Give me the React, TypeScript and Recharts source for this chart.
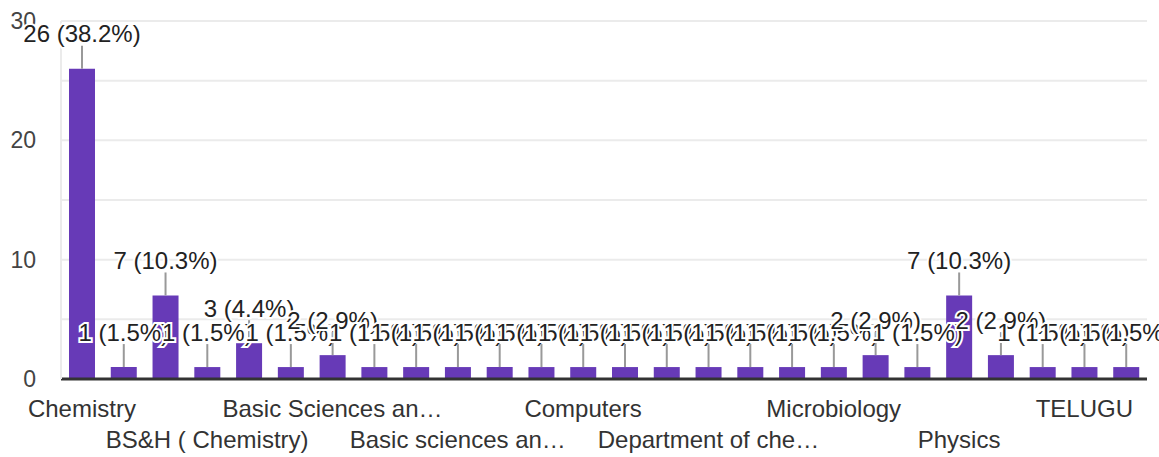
// Responses by department: Google Forms style bar chart
import { BarChart, Bar, XAxis, YAxis, CartesianGrid, LabelList } from 'recharts';

const categories = [
  'Chemistry', 'Zoology', 'CHEMISTRY', 'BS&H ( Chemistry)', 'Botany', 'Biotechnology',
  'Basic Sciences and Humanities', 'Mathematics', 'Chemistry & Biochemistry',
  'Basic sciences and humanities', 'Humanities', 'Pharmaceutical Chemistry', 'Computers',
  'English', 'Commerce', 'Department of chemistry', 'Statistics', 'Electronics',
  'Microbiology', 'Organic Chemistry', 'Biochemistry', 'Physics', 'Chemistry Department',
  'Science', 'TELUGU', 'Analytical Chemistry',
];
const counts = [26, 1, 7, 1, 3, 1, 2, 1, 1, 1, 1, 1, 1, 1, 1, 1, 1, 1, 1, 2, 1, 7, 2, 1, 1, 1];
const yTicks = [0, 5, 10, 15, 20, 25, 30];

const total = counts.reduce((a, b) => a + b, 0);
const data = categories.map((name, i) => ({ name, value: counts[i] }));

const FONT = '"Liberation Sans", Arial, sans-serif';
const PURPLE = '#673ab7';

const shorten = (s: string) => (s.length > 17 ? s.slice(0, 17) + '…' : s);

function XTick({ x, y, payload }: any) {
  const i = payload.index;
  if (i % 3 !== 0) return null;
  const row = (i / 3) % 2;
  return (
    <text x={x} y={y + 21 + row * 31} textAnchor="middle" dominantBaseline="central"
      fontFamily={FONT} fontSize={24} fill="#333">
      {shorten(payload.value)}
    </text>
  );
}

function YTick({ y, payload }: any) {
  if (payload.value % 10 !== 0) return null;
  return (
    <text x={36} y={y} textAnchor="end" dominantBaseline="central" fontFamily={FONT} fontSize={23} fill="#444">
      {payload.value}
    </text>
  );
}

function BarLabel(props: any) {
  const { x, y, width, value } = props;
  const cx = x + width / 2;
  const pct = ((value / total) * 100).toFixed(1);
  return (
    <g>
      <line x1={cx} x2={cx} y1={y} y2={y - 23} stroke="#999" strokeWidth={2} />
      <text x={cx} y={y - 35} textAnchor="middle" dominantBaseline="central" fontFamily={FONT}
        fontSize={24} fill="#222" stroke="#fff" strokeWidth={4} paintOrder="stroke">
        {`${value} (${pct}%)`}
      </text>
    </g>
  );
}

export default function App() {
  return (
    <div style={{ position: 'absolute', left: 0, top: 0, background: '#fff' }}>
      <BarChart width={1159} height={457} data={data} margin={{ top: 21, right: 12, bottom: 0, left: 0 }}>
        <CartesianGrid vertical={false} stroke="#ebebeb" strokeWidth={2} />
        <XAxis dataKey="name" interval={0} height={78} tick={<XTick />} tickLine={false}
          axisLine={{ stroke: '#333', strokeWidth: 3 }} />
        <YAxis width={61} domain={[0, 30]} ticks={yTicks} tick={<YTick />} tickLine={false}
          axisLine={{ stroke: '#ebebeb', strokeWidth: 2 }} />
        <YAxis yAxisId="r" orientation="right" width={0} domain={[0, 30]} tick={false} tickLine={false}
          axisLine={{ stroke: '#ebebeb', strokeWidth: 2 }} />
        <Bar dataKey="value" fill={PURPLE} barSize={26} isAnimationActive={false}>
          <LabelList dataKey="value" content={<BarLabel />} />
        </Bar>
      </BarChart>
    </div>
  );
}
